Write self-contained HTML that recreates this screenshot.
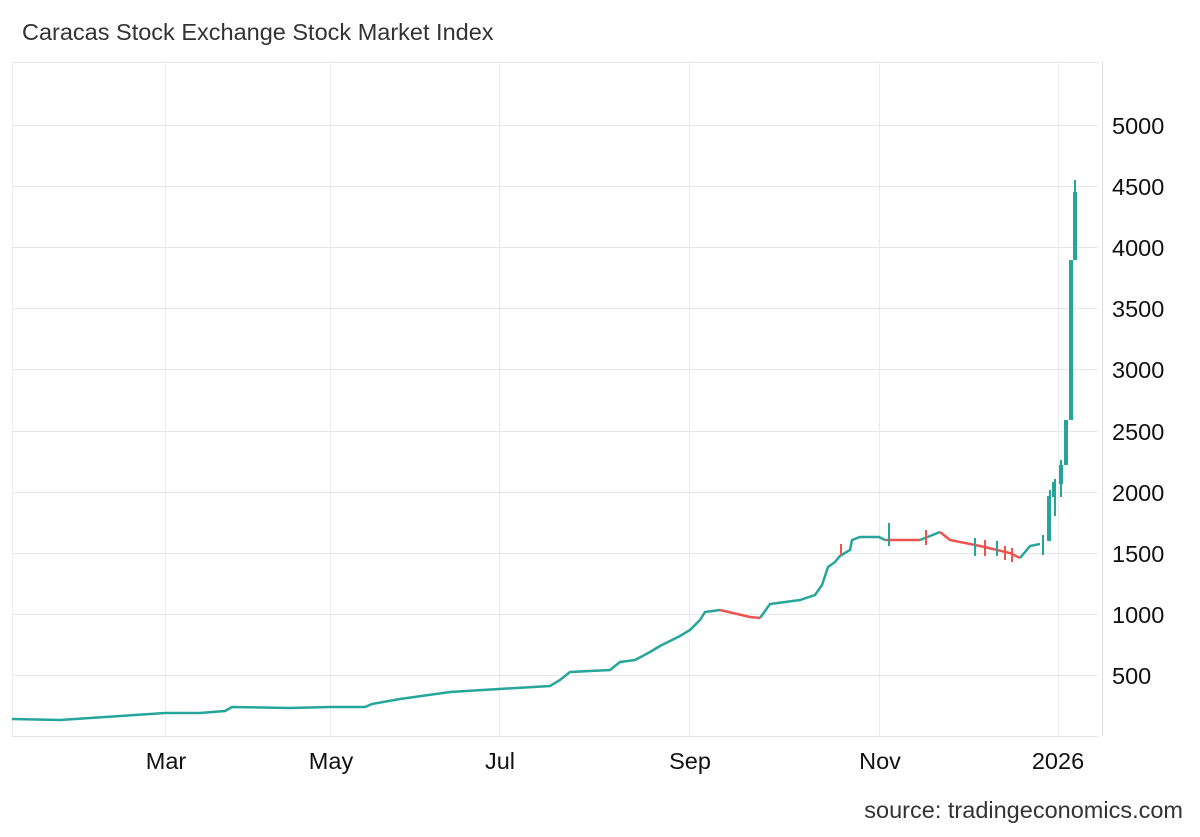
<!DOCTYPE html>
<html><head><meta charset="utf-8"><style>
body{margin:0;background:#fff;width:1200px;height:832px;overflow:hidden;font-family:"Liberation Sans",Arial,sans-serif}
</style></head><body>
<svg width="1200" height="832" xmlns="http://www.w3.org/2000/svg" font-family="Liberation Sans, Arial, sans-serif">
<text x="22" y="40" font-size="23.5" fill="#333">Caracas Stock Exchange Stock Market Index</text>
<g stroke="#e6e6e6" stroke-width="1">
<line x1="12" y1="62.5" x2="1098" y2="62.5"/>
<line x1="12" y1="125.5" x2="1098" y2="125.5"/>
<line x1="12" y1="186.5" x2="1098" y2="186.5"/>
<line x1="12" y1="247.5" x2="1098" y2="247.5"/>
<line x1="12" y1="308.5" x2="1098" y2="308.5"/>
<line x1="12" y1="369.5" x2="1098" y2="369.5"/>
<line x1="12" y1="431.5" x2="1098" y2="431.5"/>
<line x1="12" y1="492.5" x2="1098" y2="492.5"/>
<line x1="12" y1="553.5" x2="1098" y2="553.5"/>
<line x1="12" y1="614.5" x2="1098" y2="614.5"/>
<line x1="12" y1="675.5" x2="1098" y2="675.5"/>
<line x1="12" y1="736.5" x2="1098" y2="736.5"/>
<g stroke="#e8ecef">
<line x1="12.5" y1="62" x2="12.5" y2="736"/>
<line x1="165.5" y1="62" x2="165.5" y2="736"/>
<line x1="330.5" y1="62" x2="330.5" y2="736"/>
<line x1="499.5" y1="62" x2="499.5" y2="736"/>
<line x1="689.5" y1="62" x2="689.5" y2="736"/>
<line x1="879.5" y1="62" x2="879.5" y2="736"/>
<line x1="1058.5" y1="62" x2="1058.5" y2="736"/>
</g>
<line x1="1102.5" y1="62" x2="1102.5" y2="736" stroke="#ddd"/>
</g>
<g font-size="23.5" fill="#111">
<text x="1112" y="134">5000</text>
<text x="1112" y="195">4500</text>
<text x="1112" y="256">4000</text>
<text x="1112" y="317">3500</text>
<text x="1112" y="378">3000</text>
<text x="1112" y="440">2500</text>
<text x="1112" y="501">2000</text>
<text x="1112" y="562">1500</text>
<text x="1112" y="623">1000</text>
<text x="1112" y="684">500</text>
</g>
<g font-size="23.5" fill="#111" text-anchor="middle">
<text x="166" y="769">Mar</text>
<text x="331" y="769">May</text>
<text x="500" y="769">Jul</text>
<text x="690" y="769">Sep</text>
<text x="880" y="769">Nov</text>
<text x="1058" y="769">2026</text>
</g>
<text x="1183" y="818" font-size="23.5" fill="#333" text-anchor="end">source: tradingeconomics.com</text>
<g fill="none" stroke-width="2.5">
<polyline stroke="#26a69a" points="12,719 60,720 90,718 150,714 165,713 200,713 225,711 232,707 290,708 330,707 365,707 372,704 400,699 450,692 499,689 550,686 560,680 570,672 610,670 620,662 635,660 650,652 660,646 680,636 690,630 700,620 705,612 720,610"/>
<polyline stroke="#ef5350" points="720,610 750,617 760,618"/>
<polyline stroke="#26a69a" points="760,618 770,604 800,600 815,595 822,585 828,567 835,562 840,556 850,550 852,540 860,537 879,537 885,540"/>
<polyline stroke="#ef5350" points="885,540 920,540"/>
<polyline stroke="#26a69a" points="920,540 940,532"/>
<polyline stroke="#ef5350" points="940,532 950,540 980,546 1010,553 1020,558"/>
<polyline stroke="#26a69a" points="1020,558 1025,552 1030,546 1040,544"/>
</g>
<g stroke="#ef5350" stroke-width="2">
<line x1="926" y1="530" x2="926" y2="545"/><line x1="985" y1="540" x2="985" y2="556"/><line x1="1005" y1="546" x2="1005" y2="560"/><line x1="1012" y1="548" x2="1012" y2="562"/><line x1="841" y1="544" x2="841" y2="556"/>
</g>
<g stroke="#26a69a" stroke-width="2">
<line x1="889" y1="523" x2="889" y2="546"/><line x1="975" y1="538" x2="975" y2="556"/><line x1="997" y1="541" x2="997" y2="556"/><line x1="1043" y1="535" x2="1043" y2="555"/><line x1="1050" y1="490" x2="1050" y2="540"/><line x1="1055" y1="479" x2="1055" y2="516"/><line x1="1061" y1="460" x2="1061" y2="497"/><line x1="1075" y1="180" x2="1075" y2="260"/>
</g>
<g fill="#26a69a">
<rect x="1047" y="496" width="4" height="45"/>
<rect x="1052" y="482" width="4" height="15"/>
<rect x="1059" y="465" width="4" height="19"/>
<rect x="1064" y="420" width="4" height="45"/>
<rect x="1069" y="260" width="4" height="160"/>
<rect x="1073" y="192" width="4" height="68"/>
</g>
</svg>
</body></html>
